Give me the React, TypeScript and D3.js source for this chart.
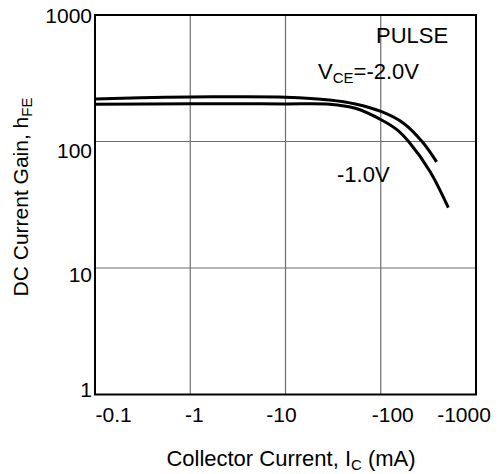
import React, { useEffect, useRef } from "react"
import * as d3 from "d3"

// hFE vs Ic, two VCE curves
const currentA = [0.1, 0.3, 1, 3, 10, 29, 54, 102, 172, 274, 386]
const gainA = [217, 222, 225, 226, 224, 213, 198, 172, 140, 99, 69]
const currentB = [0.1, 1, 3, 10, 29, 54, 102, 150, 198, 329, 512]
const gainB = [197, 199, 199, 198, 197, 183, 148, 123, 99, 58, 30]

const xTicks = [0.1, 1, 10, 100, 1000]
const xTickLabels = ["-0.1", "-1", "-10", "-100", "-1000"]
const yTicks = [1, 10, 100, 1000]
const yTickLabels = ["1", "10", "100", "1000"]

const FONT = "'Liberation Sans', Arial, Helvetica, sans-serif"

export default function App() {
  const ref = useRef(null)

  useEffect(() => {
    const width = 501,
      height = 474
    const left = 95,
      right = 476,
      top = 15,
      bottom = 394.5

    const svg = d3.select(ref.current).attr("width", width).attr("height", height)
    svg.selectAll("*").remove()

    const x = d3.scaleLog().domain([0.1, 1000]).range([left, right])
    const y = d3.scaleLog().domain([1, 1000]).range([bottom, top])

    // grid
    const grid = svg.append("g").attr("stroke", "#6e6e6e").attr("stroke-width", 1.2)
    grid
      .selectAll(".vx")
      .data(xTicks.slice(1, -1))
      .enter()
      .append("line")
      .attr("x1", (d) => x(d))
      .attr("x2", (d) => x(d))
      .attr("y1", top)
      .attr("y2", bottom)
    grid
      .selectAll(".hy")
      .data(yTicks.slice(1, -1))
      .enter()
      .append("line")
      .attr("x1", left)
      .attr("x2", right)
      .attr("y1", (d) => y(d))
      .attr("y2", (d) => y(d))

    // curves
    const line = d3.line().curve(d3.curveCatmullRom.alpha(0.5))
    const drawCurve = (xs, ys) => {
      const pts = xs.map((v, i) => [x(v), y(ys[i])])
      svg
        .append("path")
        .attr("d", line(pts))
        .attr("fill", "none")
        .attr("stroke", "#000")
        .attr("stroke-width", 3)
    }
    drawCurve(currentA, gainA)
    drawCurve(currentB, gainB)

    // frame
    svg
      .append("rect")
      .attr("x", left)
      .attr("y", top)
      .attr("width", right - left)
      .attr("height", bottom - top)
      .attr("fill", "none")
      .attr("stroke", "#000")
      .attr("stroke-width", 2)

    // tick labels
    const xShift = [18.7, 4, -4, 12, -12]
    svg
      .append("g")
      .selectAll("text")
      .data(xTicks)
      .enter()
      .append("text")
      .attr("x", (d, i) => x(d) + xShift[i])
      .attr("y", 421.7)
      .attr("text-anchor", "middle")
      .style("font-family", FONT)
      .style("font-size", "21px")
      .text((d, i) => xTickLabels[i])

    const yShift = [2.2, 13.7, 16.8, 7.7]
    svg
      .append("g")
      .selectAll("text")
      .data(yTicks)
      .enter()
      .append("text")
      .attr("x", 92)
      .attr("y", (d, i) => y(d) + yShift[i])
      .attr("text-anchor", "end")
      .style("font-family", FONT)
      .style("font-size", "21px")
      .text((d, i) => yTickLabels[i])

    // axis titles
    const xt = svg
      .append("text")
      .attr("x", 291)
      .attr("y", 466)
      .attr("text-anchor", "middle")
      .style("font-family", FONT)
      .style("font-size", "22px")
    xt.append("tspan").text("Collector Current, I")
    xt.append("tspan").attr("font-size", "15px").attr("dy", 4).text("C")
    xt.append("tspan").attr("dy", -4).text(" (mA)")

    const yt = svg
      .append("text")
      .attr("transform", "translate(28,197) rotate(-90)")
      .attr("text-anchor", "middle")
      .style("font-family", FONT)
      .style("font-size", "21px")
    yt.append("tspan").text("DC Current Gain, h")
    yt.append("tspan").attr("font-size", "15px").attr("dy", 4).text("FE")

    // annotations
    svg
      .append("text")
      .attr("x", 376)
      .attr("y", 43)
      .style("font-family", FONT)
      .style("font-size", "22px")
      .text("PULSE")

    const vce = svg
      .append("text")
      .attr("x", 318)
      .attr("y", 79)
      .style("font-family", FONT)
      .style("font-size", "22px")
    vce.append("tspan").text("V")
    vce.append("tspan").attr("font-size", "15px").attr("dy", 4).text("CE")
    vce.append("tspan").attr("dy", -4).text("=-2.0V")

    svg
      .append("text")
      .attr("x", 337)
      .attr("y", 182)
      .style("font-family", FONT)
      .style("font-size", "22px")
      .text("-1.0V")
  }, [])

  return (
    <svg
      ref={ref}
      style={{ position: "absolute", left: 0, top: 0, background: "#fff" }}
    ></svg>
  )
}
